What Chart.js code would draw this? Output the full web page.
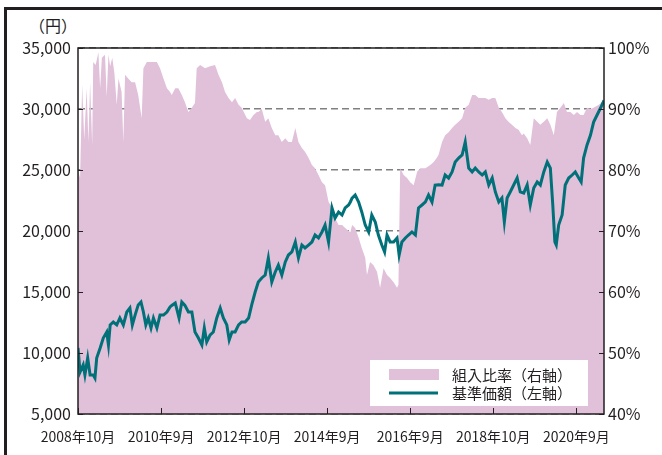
<!DOCTYPE html>
<html lang="ja">
<head>
<meta charset="utf-8">
<script src="https://cdn.jsdelivr.net/npm/chart.js@4.4.1/dist/chart.umd.min.js"></script>
<style>
  html, body { margin: 0; padding: 0; background: #fff; }
  #wrap { position: relative; width: 662px; height: 455px; overflow: hidden; }
  #frame { position: absolute; left: 4px; top: 7px; width: 700px; height: 500px;
           border-left: 3px solid #231f20; border-top: 3px solid #231f20; }
  #unit { position: absolute; left: 23px; top: 14px; width: 60px; text-align: center;
          font: 16px "Noto Sans CJK JP", sans-serif; color: #231f20; line-height: 22px; }
  canvas { position: absolute; left: 0; top: 0; }
</style>
</head>
<body>
<div id="wrap">
  <div id="frame"></div>
  <div id="unit">（円）</div>
  <canvas id="fundChart" width="662" height="455"></canvas>
</div>
<script>
// months counted from 2008年10月
const tickMonths = [0, 24, 48, 72, 96, 120, 144];
const tickLabels = ['2008年10月', '2010年9月', '2012年10月', '2014年9月', '2016年9月', '2018年10月', '2020年9月'];

// 基準価額 (円, left axis)
const priceMonths = [0, 0.6, 1.5, 2.0, 2.8, 3.5, 4.4, 4.9, 5.4, 6.4, 7.3, 8.3, 8.8, 9.3, 10.2, 11.2, 12.1, 13.1, 14.1, 15.0,
  15.7, 16.5, 17.4, 18.2, 18.9, 19.6, 20.3, 21.1, 21.8, 22.8, 23.7, 24.7, 25.7, 26.6, 27.1, 28.1, 29.2, 30.0, 30.9, 31.9,
  32.9, 33.8, 34.8, 35.8, 36.5, 37.2, 38.2, 39.1, 40.1, 41.1, 42.0, 43.0, 43.7, 44.5, 45.4, 46.4, 47.3, 48.3, 49.3, 50.2,
  51.2, 52.1, 53.1, 54.1, 55.0, 56.0, 57.0, 57.9, 58.9, 59.9, 60.8, 61.8, 62.8, 63.7, 64.7, 65.6, 66.6, 67.6, 68.5, 69.5,
  70.5, 71.4, 72.4, 73.4, 74.3, 75.3, 76.3, 77.2, 78.2, 78.7, 79.2, 80.1, 81.1, 82.0, 83.0, 84.0, 84.9, 85.9, 86.8, 87.8,
  88.6, 89.3, 90.2, 91.2, 92.2, 92.8, 93.6, 94.6, 95.5, 96.5, 97.5, 98.4, 99.4, 100.4, 101.3, 102.3, 103.2, 104.2, 105.2, 106.1,
  107.1, 108.1, 109.0, 110.0, 111.0, 111.9, 112.9, 113.9, 114.8, 115.8, 116.8, 117.7, 118.7, 119.7, 120.6, 121.6, 122.5, 123.2, 124.0, 124.9,
  125.9, 126.9, 127.8, 128.8, 129.8, 130.7, 131.7, 132.7, 133.6, 134.6, 135.6, 136.5, 137.2, 137.8, 138.2, 138.9, 139.9, 140.8, 141.8, 142.8,
  143.7, 144.7, 145.4, 146.1, 147.1, 148.1, 149.0, 150.0, 151.0, 152.0];
const priceValues = [10410, 8440, 9020, 8200, 9590, 8200, 8200, 7950, 9590, 10410, 11230, 11720, 10660, 12300, 12540, 12300, 12870, 12300, 13360, 13690,
  12300, 13110, 13940, 14180, 13360, 12300, 12870, 12050, 12870, 12050, 13110, 13110, 13360, 13770, 13900, 14100, 12870, 14180, 13900, 13360,
  13360, 11720, 11230, 10660, 12050, 10900, 11480, 11720, 12870, 13690, 12870, 12300, 11070, 11720, 11720, 12300, 12540, 12540, 12870, 13940,
  15000, 15820, 16150, 16390, 17790, 15820, 16640, 17210, 16390, 17460, 18030, 18280, 19100, 17790, 18850, 18610, 18850, 19100, 19670, 19430,
  19920, 20490, 19100, 21890, 21070, 21560, 21310, 21890, 22130, 22380, 22700, 22950, 22380, 21560, 20490, 19920, 21310, 20740, 19670, 18850,
  18280, 19670, 19100, 19100, 19430, 18030, 19100, 19430, 19670, 19920, 19670, 21890, 22130, 22380, 22950, 22380, 23770, 23800, 23770, 24590,
  24340, 24840, 25660, 25980, 26230, 27300, 25160, 24840, 25160, 24840, 24590, 24840, 23770, 24340, 23200, 22380, 22700, 20740, 22700, 23200,
  23770, 24340, 23200, 23100, 23770, 22130, 23520, 24020, 23770, 24840, 25660, 25160, 22130, 19100, 18850, 20490, 21310, 23770, 24340, 24590,
  24840, 24340, 24020, 25980, 27050, 27870, 28930, 29510, 30080, 30700];

// 組入比率 (%, right axis)
const ratioMonths = [0, 0.6, 1.2, 1.8, 2.5, 3.0, 3.5, 4.1, 4.4, 5.1, 5.9, 6.4, 6.9, 7.8, 8.3, 8.8, 9.3, 9.9, 10.5, 11.2,
  11.7, 12.6, 13.1, 13.6, 14.5, 15.5, 16.5, 17.4, 18.4, 18.9, 19.9, 21.3, 22.8, 23.7, 24.7, 25.7, 26.6, 27.1, 28.1, 29.0,
  30.0, 30.9, 31.9, 32.9, 33.8, 34.3, 35.3, 36.7, 38.2, 39.6, 40.6, 41.6, 42.5, 43.5, 44.5, 45.4, 46.4, 47.3, 48.8, 49.7,
  50.7, 51.7, 52.1, 53.1, 54.1, 55.0, 56.0, 57.0, 57.9, 58.9, 59.9, 60.8, 61.8, 62.8, 63.7, 64.7, 65.6, 66.6, 67.6, 68.5,
  69.5, 70.5, 71.4, 72.4, 73.4, 74.3, 75.3, 76.3, 77.2, 78.7, 79.2, 80.1, 81.1, 82.0, 83.0, 83.5, 84.4, 85.4, 86.4, 87.3,
  88.3, 89.3, 90.2, 91.2, 92.2, 92.6, 93.1, 94.1, 95.1, 96.0, 97.0, 98.0, 98.9, 100.4, 101.8, 102.8, 103.7, 104.2, 105.2, 106.1,
  107.1, 108.1, 109.0, 110.0, 111.0, 111.9, 112.9, 113.9, 114.8, 115.8, 116.8, 117.7, 118.7, 119.7, 120.6, 121.6, 122.5, 123.5, 124.4, 125.4,
  126.4, 127.3, 128.3, 128.8, 129.8, 130.7, 131.7, 132.7, 133.6, 134.6, 135.6, 136.5, 137.5, 138.4, 139.4, 140.4, 141.3, 142.3, 143.3, 144.2,
  145.2, 146.1, 147.1, 148.1, 149.0, 150.5, 151.4, 152.0];
const ratioValues = [80, 78.7, 94, 85, 93.4, 84.6, 94.4, 84, 97.7, 97.2, 99.3, 93.4, 98.4, 98.9, 92, 98.9, 97, 98.4, 96, 90.7,
  95, 92.8, 84.6, 95.6, 95, 94.4, 94.4, 92.3, 88.5, 96.7, 97.7, 97.7, 97.7, 96.7, 95, 93.4, 92.8, 92.3, 93.4, 93.4,
  92.3, 91.1, 89.5, 90.2, 91, 96.7, 97.2, 96.7, 97, 97.2, 95.6, 94.4, 92.8, 91.8, 91.1, 91.8, 90.7, 90.2, 88.5, 88.2,
  89, 89.5, 89.5, 90, 87.9, 88.5, 86.9, 85.7, 85.7, 84.6, 85.2, 84.6, 84.6, 86.9, 84.6, 83.6, 83, 82, 80.8, 80.3,
  79.2, 78, 77.5, 74.8, 73.8, 72.1, 71, 71, 70.5, 69.8, 71, 70.5, 68.9, 67.2, 65.6, 62.8, 64.9, 64.4, 63.3, 60.7,
  63.9, 62.8, 62.3, 61.6, 60.7, 61.2, 80.3, 79.2, 78.7, 78, 77.5, 79.7, 80.3, 80.3, 80.8, 81.3, 82, 82.5, 84.6, 85.7,
  86.2, 86.9, 87.4, 87.9, 88.5, 90.2, 90.7, 92.3, 92.3, 91.8, 91.8, 91.8, 91.5, 91.8, 91.8, 90.2, 89.5, 88.5, 87.9, 87.4,
  86.9, 86.6, 85.7, 86, 85.2, 84.1, 88.5, 87.9, 87.4, 87.9, 88.5, 87.4, 85.7, 89.5, 90.2, 91, 89.5, 89.5, 89, 89.5,
  89, 89, 90.2, 90, 90.2, 90.7, 91.1, 91];

const inkColor = '#231f20';
const pink = '#e1c0da';
const teal = '#007079';

// draws the frame, the inward tick marks and the boxed legend on top of the data
const overlay = {
  id: 'overlay',
  afterDatasetsDraw(chart) {
    const { ctx, chartArea: a, scales } = chart;
    ctx.save();
    ctx.strokeStyle = inkColor;
    ctx.lineWidth = 1;
    ctx.beginPath();
    scales.y.ticks.forEach(t => {
      const py = Math.round(scales.y.getPixelForValue(t.value)) + 0.5;
      ctx.moveTo(a.left, py); ctx.lineTo(a.left + 5, py);
    });
    scales.y1.ticks.forEach(t => {
      const py = Math.round(scales.y1.getPixelForValue(t.value)) + 0.5;
      ctx.moveTo(a.right, py); ctx.lineTo(a.right - 5, py);
    });
    scales.x.ticks.forEach(t => {
      const px = Math.round(scales.x.getPixelForValue(t.value)) + 0.5;
      ctx.moveTo(px, a.bottom); ctx.lineTo(px, a.bottom - 6);
    });
    ctx.stroke();
    ctx.lineWidth = 1.5;
    ctx.strokeRect(a.left, a.top, a.right - a.left, a.bottom - a.top);

    // legend box
    const ds = chart.data.datasets;
    const area = ds.find(d => d.yAxisID === 'y1');
    const line = ds.find(d => d.yAxisID === 'y');
    ctx.fillStyle = '#fff';
    ctx.fillRect(370, 360, 218, 46);
    ctx.fillStyle = area.backgroundColor;
    ctx.fillRect(389, 369, 50, 11);
    ctx.strokeStyle = line.borderColor;
    ctx.lineWidth = 3;
    ctx.beginPath();
    ctx.moveTo(389, 393); ctx.lineTo(438, 393);
    ctx.stroke();
    ctx.fillStyle = inkColor;
    ctx.font = '15px "Noto Sans CJK JP", sans-serif';
    ctx.textBaseline = 'middle';
    ctx.fillText(area.label, 452, 375);
    ctx.fillText(line.label, 452, 393);
    ctx.restore();
  }
};

Chart.defaults.font.family = '"Noto Sans CJK JP", sans-serif';
Chart.defaults.color = inkColor;

new Chart(document.getElementById('fundChart'), {
  type: 'line',
  data: {
    datasets: [
      {
        label: '基準価額（左軸）',
        data: priceMonths.map((m, i) => ({ x: m, y: priceValues[i] })),
        yAxisID: 'y',
        borderColor: teal,
        borderWidth: 3,
        pointRadius: 0,
        tension: 0,
        order: 1
      },
      {
        label: '組入比率（右軸）',
        data: ratioMonths.map((m, i) => ({ x: m, y: ratioValues[i] })),
        yAxisID: 'y1',
        backgroundColor: pink,
        borderWidth: 0,
        pointRadius: 0,
        fill: 'start',
        tension: 0,
        order: 2
      }
    ]
  },
  options: {
    responsive: false,
    animation: false,
    devicePixelRatio: 1,
    layout: { padding: { top: 48, left: 0, right: 0, bottom: 0 } },
    plugins: { legend: { display: false }, tooltip: { enabled: false } },
    scales: {
      x: {
        type: 'linear',
        min: 0,
        max: 152,
        afterBuildTicks: (scale) => { scale.ticks = tickMonths.map(v => ({ value: v })); },
        afterFit: (scale) => { scale.height = 41; },
        grid: { display: false, drawTicks: false },
        border: { display: false },
        ticks: {
          font: { size: 14 },
          padding: 14,
          maxRotation: 0,
          autoSkip: false,
          callback: (value, index) => tickLabels[index]
        }
      },
      y: {
        position: 'left',
        min: 5000,
        max: 35000,
        afterFit: (scale) => { scale.width = 78; },
        grid: { display: false, drawTicks: false },
        border: { display: false },
        ticks: {
          stepSize: 5000,
          font: { size: 16 },
          padding: 7,
          callback: (value) => value.toLocaleString('en-US')
        }
      },
      y1: {
        position: 'right',
        min: 40,
        max: 100,
        afterFit: (scale) => { scale.width = 58; },
        grid: { color: '#808080', lineWidth: 1.5, drawTicks: false },
        border: { display: false, dash: [7, 4] },
        ticks: {
          stepSize: 10,
          font: { size: 16 },
          padding: 4,
          callback: (value) => value + '%'
        }
      }
    }
  },
  plugins: [overlay]
});
</script>
</body>
</html>
